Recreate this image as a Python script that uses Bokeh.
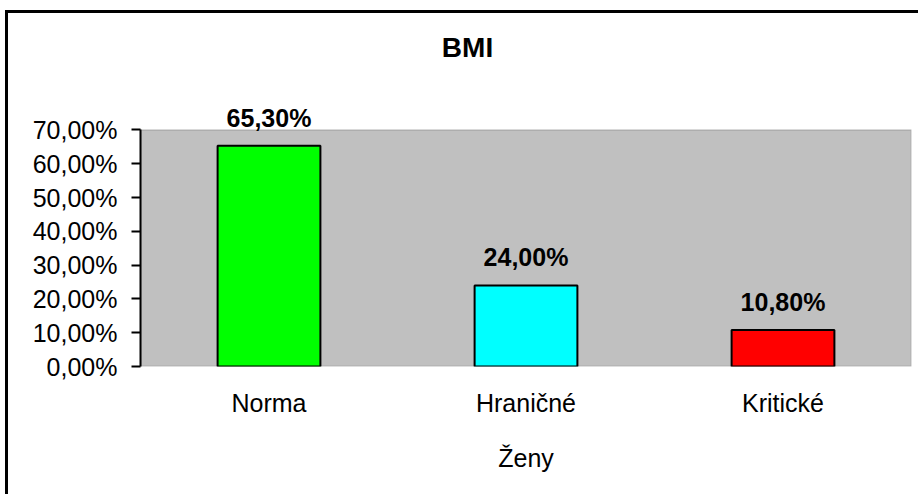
from bokeh.plotting import figure
from bokeh.models import ColumnDataSource, FixedTicker, LabelSet, Label, BoxAnnotation, FactorRange, Range1d
from bokeh.core.properties import value
from bokeh.embed import file_html
from bokeh.resources import INLINE

categories = ["Norma", "Hraničné", "Kritické"]
values = [65.3, 24.0, 10.8]
colors = ["#00FF00", "#00FFFF", "#FF0000"]
tick_values = [0, 10, 20, 30, 40, 50, 60, 70]
tick_labels = ["0,00%", "10,00%", "20,00%", "30,00%", "40,00%", "50,00%", "60,00%", "70,00%"]
title_text = "BMI"
x_title = "Ženy"

value_labels = [f"{v:.2f}".replace(".", ",") + "%" for v in values]

FONT = "Liberation Sans"
Y_MAX = 70
Y_TOP = 108.3  # extra room above the gray plot area for title and labels

src = ColumnDataSource(dict(cat=categories, val=values, color=colors, lab=value_labels))

p = figure(width=918, height=494, output_backend="svg", toolbar_location=None, title=None,
           x_range=FactorRange(*categories, range_padding=0), y_range=Range1d(0, Y_TOP),
           min_border_left=140, min_border_right=7, min_border_top=0, min_border_bottom=128)
p.background_fill_color = None
p.border_fill_color = None
p.outline_line_color = None
p.xgrid.visible = False
p.ygrid.visible = False
p.styles = {"box-shadow": "inset 5px 10px 0 0 white, inset 8px 13px 0 0 black",
            "background": "white"}

plot_area = BoxAnnotation(bottom=0, top=Y_MAX, fill_color="#C0C0C0", fill_alpha=1,
                          line_color="#808080", line_width=2, level="underlay")
p.add_layout(plot_area)

p.vbar(x="cat", top="val", width=0.4, fill_color="color", line_color="black", line_width=2, source=src)

# y axis
ya = p.yaxis[0]
ya.ticker = FixedTicker(ticks=tick_values)
ya.bounds = (0, Y_MAX)
ya.major_label_overrides = {v: l for v, l in zip(tick_values, tick_labels)}
ya.axis_line_color = "black"
ya.axis_line_width = 2
ya.major_tick_line_color = "black"
ya.major_tick_line_width = 2
ya.major_tick_out = 9
ya.major_tick_in = 0
ya.minor_tick_out = 0
ya.minor_tick_in = 0
ya.major_label_standoff = 14
ya.major_label_text_font = FONT
ya.major_label_text_font_size = "25px"
ya.major_label_text_color = "black"

# x axis
xa = p.xaxis[0]
xa.axis_line_color = None
xa.major_tick_line_color = None
xa.major_tick_out = 0
xa.major_tick_in = 0
xa.major_label_standoff = 22
xa.major_label_text_font = FONT
xa.major_label_text_font_size = "25px"
xa.major_label_text_color = "black"
xa.axis_label = x_title
xa.axis_label_text_font = FONT
xa.axis_label_text_font_size = "25px"
xa.axis_label_text_font_style = "normal"
xa.axis_label_text_color = "black"
xa.axis_label_standoff = 24

labels = LabelSet(x="cat", y="val", text="lab", source=src, text_align="center",
                  text_baseline="alphabetic", y_offset=19, text_font=value(FONT),
                  text_font_size=value("25px"), text_font_style="bold", text_color="black")
p.add_layout(labels)

title = Label(x=327, y=319, x_units="screen", y_units="screen", text=title_text,
              text_align="center", text_baseline="alphabetic", text_font=FONT,
              text_font_size="28px", text_font_style="bold", text_color="black")
p.add_layout(title)

open("out.html", "w").write(file_html(p, INLINE))
